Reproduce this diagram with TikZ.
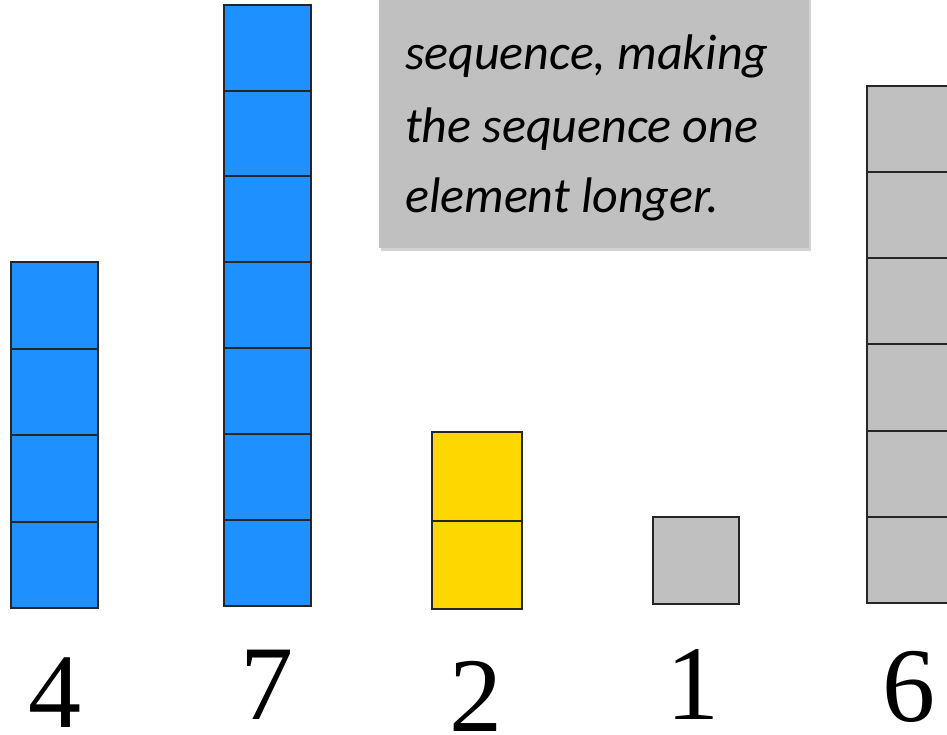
\documentclass[tikz,border=0pt]{standalone}
\usepackage{fontspec}
\newfontfamily\notefont{Carlito}
\newfontfamily\digitfont{Liberation Serif}
\usetikzlibrary{shadows}
\definecolor{barblue}{RGB}{30,144,255}
\definecolor{baryellow}{RGB}{255,215,0}
\definecolor{bargray}{RGB}{192,192,192}
\tikzset{
  cell/.style={draw=black!85,line width=2pt,inner sep=0pt,outer sep=0pt,anchor=south west},
  digit/.style={font=\digitfont\fontsize{106}{106}\selectfont,anchor=base,inner sep=0pt},
  notebox/.style={fill=bargray,inner sep=0pt,anchor=south west,minimum width=430pt,minimum height=280pt,
    drop shadow={shadow xshift=2pt,shadow yshift=-3pt,opacity=0.35}},
  noteline/.style={font=\notefont\itshape\fontsize{50}{50}\selectfont,anchor=base west,inner sep=0pt}
}
\begin{document}
\begin{tikzpicture}[x=1pt,y=-1pt]
\clip (0,0) rectangle (947,735);
\fill[white] (0,0) rectangle (947,735);
% note box
\node[notebox] (box) at (379,248) {};
\node[noteline] (l1) at (405,70) {sequence, making};
\node[noteline] (l2) at (405,143) {the sequence one};
\node[noteline] (l3) at (405,213) {element longer.};
% bars
\foreach \name/\x/\ybot/\n/\w/\h/\col in
  {a/11/608/4/87/86.5/barblue, b/224/606/7/87/85.9/barblue, c/432/609/2/90/88.5/baryellow,
   d/653/604/1/86/87/bargray, e/867/603/6/87/86.2/bargray}
  \foreach \k in {1,...,\n}
    \node[cell,fill=\col,minimum width=\w pt,minimum height=\h pt] (\name\k) at (\x,{\ybot-(\k-1)*\h}) {};
% values
\node[digit] (va) at (55,727) {4};
\node[digit] (vb) at (267,719) {7};
\node[digit] (vc) at (476,731) {2};
\node[digit] (vd) at (693,719) {1};
\node[digit] (ve) at (909,721) {6};
\end{tikzpicture}
\end{document}
